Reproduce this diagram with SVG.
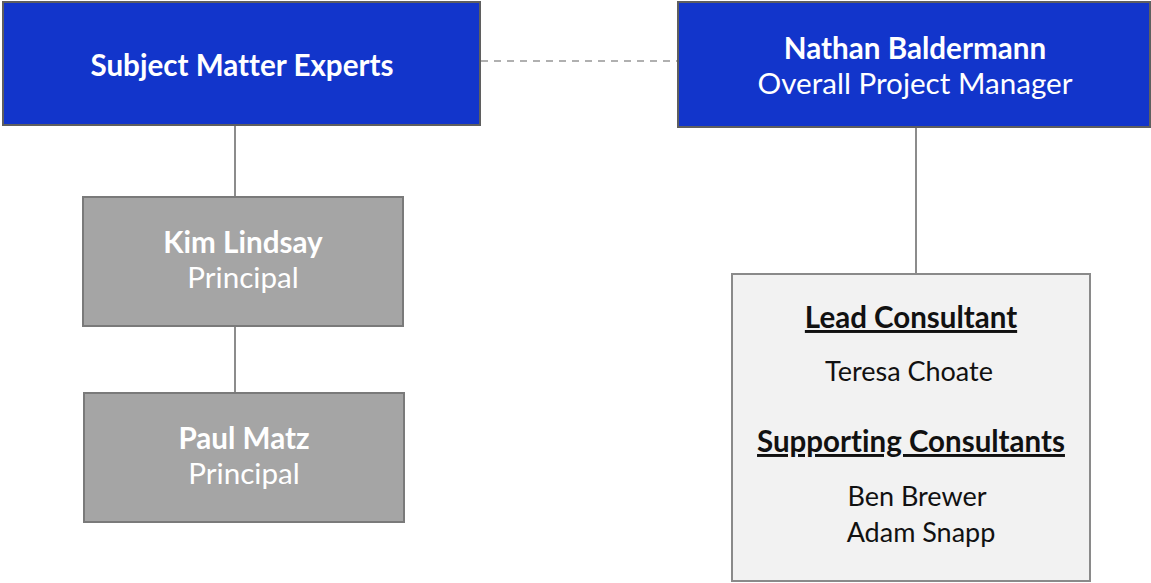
<svg xmlns="http://www.w3.org/2000/svg" width="1151" height="583" viewBox="0 0 1151 583">
<style>
.blue{fill:#1235CB;stroke:#5f5f5f;stroke-width:2}
.gray{fill:#a5a5a5;stroke:#7a7a7a;stroke-width:2}
.light{fill:#f2f2f2;stroke:#8a8a8a;stroke-width:2}
text{font-family:Lato,"Open Sans","Liberation Sans",sans-serif;text-anchor:middle;font-variant-ligatures:none}
.w{fill:#ffffff;font-size:29.6px}
.k{fill:#111111;font-size:27px}
.h{fill:#111111;font-size:29.5px;font-weight:bold;text-decoration:underline}
.b{font-weight:bold}
.conn{stroke:#8c8c8c;stroke-width:2;fill:none}
.dash{stroke:#b0b0b0;stroke-width:2;stroke-dasharray:7 6;fill:none}
</style>
<g id="connectors">
<line class="dash" x1="481" y1="61" x2="678" y2="61"/>
<line class="conn" x1="235" y1="125" x2="235" y2="197"/>
<line class="conn" x1="235" y1="326" x2="235" y2="393"/>
<line class="conn" x1="916" y1="127" x2="916" y2="274"/>
</g>
<g id="sme">
<rect class="blue" x="3" y="2" width="477" height="123"/>
<text class="w b" x="242" y="76">Subject Matter Experts</text>
</g>
<g id="nathan">
<rect class="blue" x="678" y="2" width="472" height="125"/>
<text class="w b" x="915" y="59">Nathan Baldermann</text>
<text class="w" x="915" y="94">Overall Project Manager</text>
</g>
<g id="kim">
<rect class="gray" x="83" y="197" width="320" height="129"/>
<text class="w b" x="243" y="253">Kim Lindsay</text>
<text class="w" x="243" y="288">Principal</text>
</g>
<g id="paul">
<rect class="gray" x="84" y="393" width="320" height="129"/>
<text class="w b" x="244" y="449">Paul Matz</text>
<text class="w" x="244" y="484">Principal</text>
</g>
<g id="consultants">
<rect class="light" x="732" y="274" width="358" height="307"/>
<text class="h" x="911" y="328">Lead Consultant</text>
<text class="k" x="909" y="381">Teresa Choate</text>
<text class="h" x="911" y="452">Supporting Consultants</text>
<text class="k" x="917" y="506">Ben Brewer</text>
<text class="k" x="921" y="542">Adam Snapp</text>
</g>
</svg>
